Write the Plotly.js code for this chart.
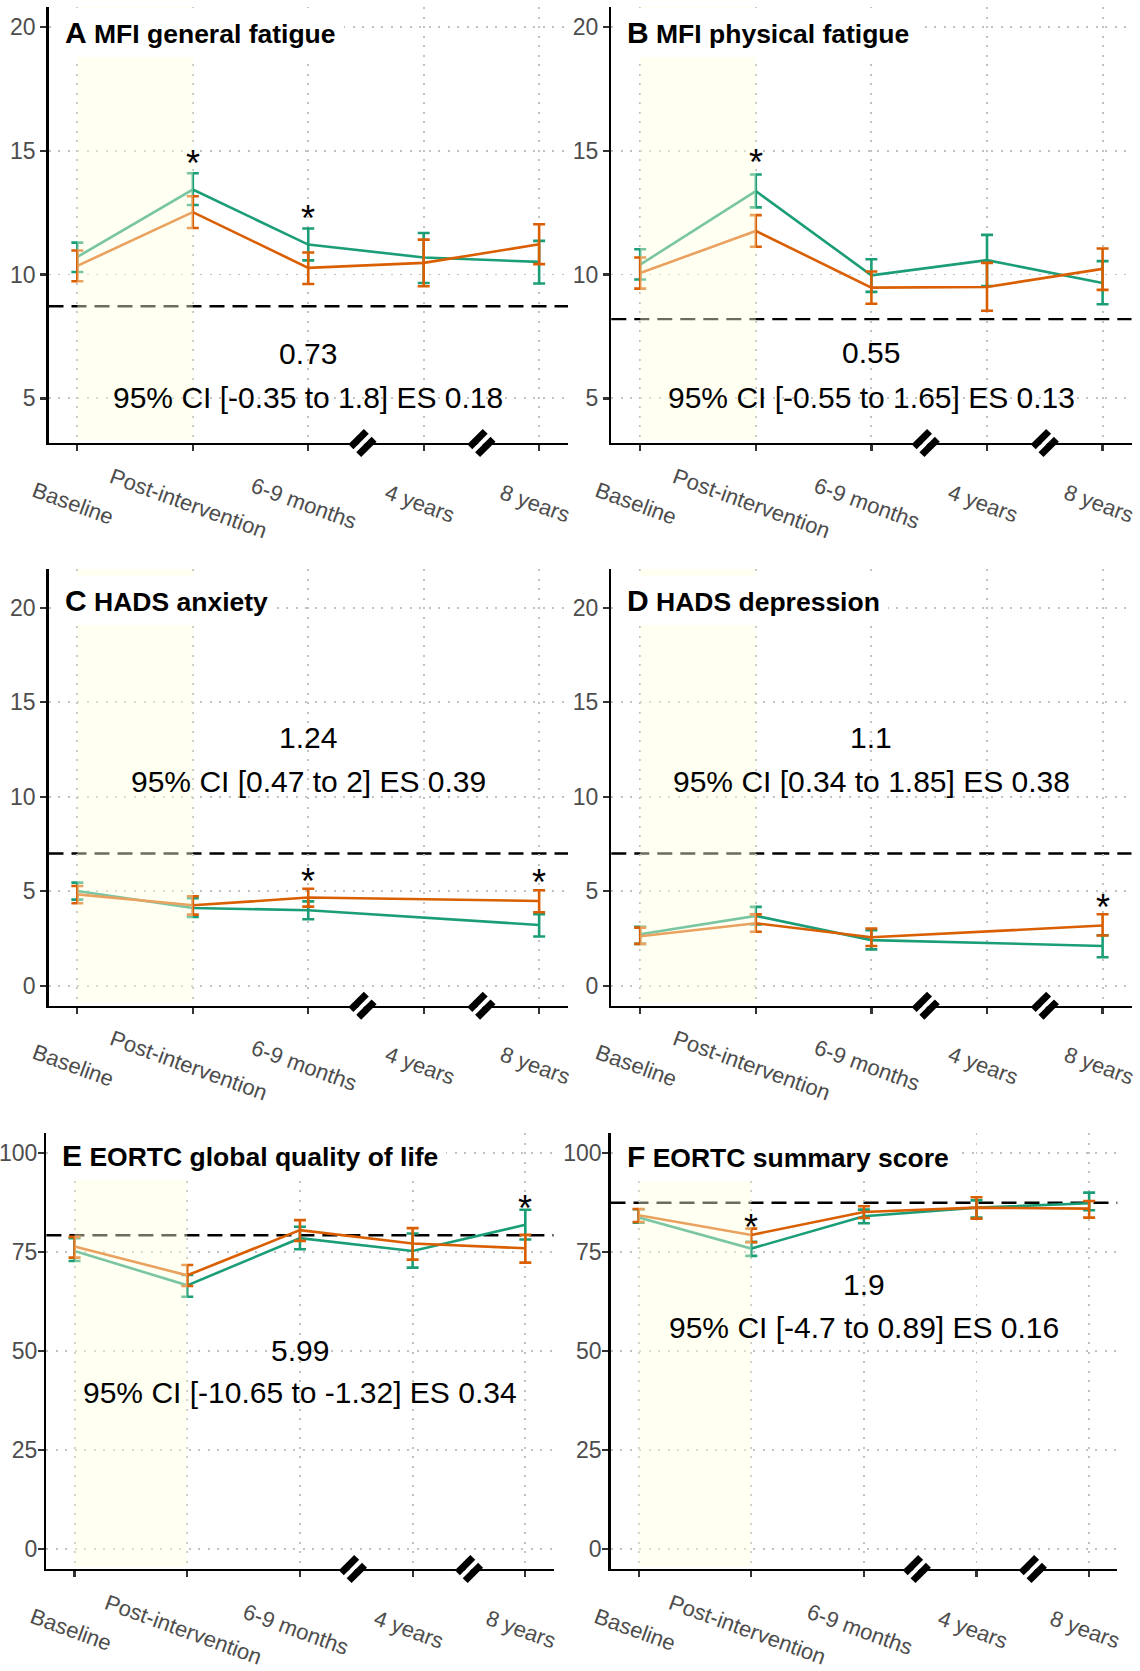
<!DOCTYPE html>
<html>
<head>
<meta charset="utf-8">
<script src="https://cdn.plot.ly/plotly-3.0.1.min.js"></script>
<style>html,body{margin:0;padding:0;background:#fff;}#chart{width:1140px;height:1671px;}</style>
</head>
<body>
<div id="chart"></div>
<script>
// ---------- data ----------
const categories = ['Baseline', 'Post-intervention', '6-9 months', '4 years', '8 years'];
const panelLetters = ['A', 'B', 'C', 'D', 'E', 'F'];
const panelTitles = ['MFI general fatigue', 'MFI physical fatigue', 'HADS anxiety', 'HADS depression',
  'EORTC global quality of life', 'EORTC summary score'];

// green group (mean, upper CI, lower CI)
const greenMeanA = [10.71, 13.43, 11.21, 10.69, 10.51];
const greenHiA   = [11.29, 14.09, 11.86, 11.68, 11.36];
const greenLoA   = [10.10, 12.81, 10.57, 9.66, 9.64];
const orangeMeanA = [10.35, 12.52, 10.27, 10.47, 11.22];
const orangeHiA   = [10.97, 13.16, 10.89, 11.41, 12.03];
const orangeLoA   = [9.73, 11.88, 9.62, 9.53, 10.42];

const greenMeanB = [10.40, 13.37, 9.97, 10.58, 9.66];
const greenHiB   = [11.02, 14.04, 10.62, 11.60, 10.54];
const greenLoB   = [9.80, 12.71, 9.30, 9.54, 8.80];
const orangeMeanB = [10.06, 11.76, 9.47, 9.50, 10.23];
const orangeHiB   = [10.69, 12.40, 10.12, 10.47, 11.05];
const orangeLoB   = [9.43, 11.12, 8.82, 8.54, 9.38];

const greenMeanC = [5.02, 4.12, 4.00, null, 3.22];
const greenHiC   = [5.46, 4.63, 4.47, null, 3.79];
const greenLoC   = [4.56, 3.65, 3.52, null, 2.61];
const orangeMeanC = [4.84, 4.26, 4.67, null, 4.49];
const orangeHiC   = [5.28, 4.74, 5.14, null, 5.06];
const orangeLoC   = [4.37, 3.77, 4.19, null, 3.89];

const greenMeanD = [2.73, 3.70, 2.42, null, 2.11];
const greenHiD   = [3.13, 4.18, 2.94, null, 2.68];
const greenLoD   = [2.22, 3.25, 1.93, null, 1.51];
const orangeMeanD = [2.62, 3.31, 2.57, null, 3.19];
const orangeHiD   = [3.08, 3.78, 3.03, null, 3.79];
const orangeLoD   = [2.22, 2.86, 2.11, null, 2.66];

const greenMeanE = [75.25, 66.56, 78.46, 75.25, 81.84];
const greenHiE   = [78.46, 69.18, 81.33, 79.64, 85.63];
const greenLoE   = [72.72, 63.69, 75.68, 71.03, 78.12];
const orangeMeanE = [76.35, 69.09, 80.49, 77.11, 75.93];
const orangeHiE   = [78.80, 71.71, 83.02, 80.99, 79.30];
const orangeLoE   = [73.57, 66.39, 77.78, 73.06, 72.30];

const greenMeanF = [83.66, 75.84, 83.99, 86.18, 87.27];
const greenHiF   = [85.76, 77.52, 85.67, 88.00, 89.96];
const greenLoF   = [82.39, 73.99, 82.23, 83.66, 85.50];
const orangeMeanF = [84.24, 79.29, 85.08, 86.18, 85.92];
const orangeHiF   = [85.84, 80.88, 86.51, 88.78, 87.86];
const orangeLoF   = [82.56, 77.44, 83.57, 83.40, 83.66];

// reference (cut-off) lines
const cutoffs = [8.72, 8.2, 7.0, 7.0, 79.2, 87.4];
// between-group statistics
const statDiff = ['0.73', '0.55', '1.24', '1.1', '5.99', '1.9'];
const statCI = ['95% CI [-0.35 to 1.8] ES 0.18', '95% CI [-0.55 to 1.65] ES 0.13',
  '95% CI [0.47 to 2] ES 0.39', '95% CI [0.34 to 1.85] ES 0.38',
  '95% CI [-10.65 to -1.32] ES 0.34', '95% CI [-4.7 to 0.89] ES 0.16'];
// significance stars: category index and height
const sigIndexA = [1, 2], sigYA = [14.86, 12.64];
const sigIndexB = [1], sigYB = [14.87];
const sigIndexC = [2, 4], sigYC = [6.0, 5.93];
const sigIndexD = [4], sigYD = [4.61];
const sigIndexE = [4], sigYE = [88.2];
const sigIndexF = [1], sigYF = [83.5];
// axis scale breaks (between categories)
const breakX = [2.47, 3.5];
const yTicksFatigue = [5, 10, 15, 20];
const yTicksHads = [0, 5, 10, 15, 20];
const yTicksEortc = [0, 25, 50, 75, 100];

// ---------- assemble ----------
const series = [
  [greenMeanA, greenHiA, greenLoA, orangeMeanA, orangeHiA, orangeLoA, sigIndexA, sigYA],
  [greenMeanB, greenHiB, greenLoB, orangeMeanB, orangeHiB, orangeLoB, sigIndexB, sigYB],
  [greenMeanC, greenHiC, greenLoC, orangeMeanC, orangeHiC, orangeLoC, sigIndexC, sigYC],
  [greenMeanD, greenHiD, greenLoD, orangeMeanD, orangeHiD, orangeLoD, sigIndexD, sigYD],
  [greenMeanE, greenHiE, greenLoE, orangeMeanE, orangeHiE, orangeLoE, sigIndexE, sigYE],
  [greenMeanF, greenHiF, greenLoF, orangeMeanF, orangeHiF, orangeLoF, sigIndexF, sigYF]
];

// layout geometry (pixels in the 1140x1671 page)
const W = 1140, H = 1671;
const XR = [-0.25, 4.25];
const boxes = [
  {x0: 48.5, x1: 568,    y0: 7,    y1: 443,    yr: [3.2, 20.8],   tv: yTicksFatigue, ty: 32.3, sy: [6.81, 5.04], so: 0},
  {x0: 611.3, x1: 1131.5, y0: 7,    y1: 443,    yr: [3.2, 20.8],   tv: yTicksFatigue, ty: 32.3, sy: [6.84, 5.05], so: 0},
  {x0: 48.5, x1: 568,    y0: 569,  y1: 1005.7, yr: [-1.05, 22.05], tv: yTicksHads,    ty: 600.7, sy: [13.12, 10.81], so: 0},
  {x0: 611.3, x1: 1131.5, y0: 569,  y1: 1005.7, yr: [-1.05, 22.05], tv: yTicksHads,    ty: 600.7, sy: [13.12, 10.81], so: 0},
  {x0: 46.4, x1: 553.5,  y0: 1133, y1: 1569,   yr: [-5, 105],     tv: yTicksEortc,   ty: 1155.5, sy: [50.1, 39.6], so: -4},
  {x0: 610.5, x1: 1117.3, y0: 1133, y1: 1569,   yr: [-5, 105],     tv: yTicksEortc,   ty: 1156.5, sy: [66.8, 56.0], so: -4}
];

const FONT = 'Liberation Sans, Arial, Helvetica, sans-serif';
const GREEN = '#1b9e77', ORANGE = '#d95f02';
const xIdx = categories.map((c, i) => i);
const toDom = v => (v - XR[0]) / (XR[1] - XR[0]);

const data = [];
const shapes = [];
const annotations = [];
const layout = {
  width: W, height: H,
  margin: {l: 0, r: 0, t: 0, b: 0},
  paper_bgcolor: '#fff', plot_bgcolor: '#fff',
  showlegend: false,
  font: {family: FONT, color: '#000'}
};

function errs(mean, hi, lo) {
  return {
    type: 'data', symmetric: false,
    array: mean.map((m, i) => m == null ? null : hi[i] - m),
    arrayminus: mean.map((m, i) => m == null ? null : m - lo[i])
  };
}

boxes.forEach((b, p) => {
  const n = p === 0 ? '' : String(p + 1);
  const xa = 'x' + n, ya = 'y' + n;
  const s = series[p];

  layout['xaxis' + n] = {
    domain: [b.x0 / W, b.x1 / W], anchor: ya, range: XR,
    tickvals: xIdx, showticklabels: false,
    ticks: 'outside', ticklen: 6, tickwidth: 2.2, tickcolor: '#333',
    showline: true, linecolor: '#000', linewidth: 2.4,
    showgrid: true, gridcolor: '#c2c2c2', gridwidth: 1.9, griddash: '2px,7.5px',
    zeroline: false, fixedrange: true
  };
  layout['yaxis' + n] = {
    domain: [1 - b.y1 / H, 1 - b.y0 / H], anchor: xa, range: b.yr,
    tickvals: b.tv, ticks: 'outside', ticklen: 6, tickwidth: 2.2, tickcolor: '#333',
    tickfont: {family: FONT, size: 23, color: '#4d4d4d'}, ticklabelstandoff: b.so,
    showline: true, linecolor: '#000', linewidth: 2.4,
    showgrid: true, gridcolor: '#c2c2c2', gridwidth: 1.9, griddash: '2px,7.5px',
    zeroline: false, fixedrange: true
  };

  // series
  [[s[0], s[1], s[2], GREEN], [s[3], s[4], s[5], ORANGE]].forEach(([m, hi, lo, col]) => {
    data.push({
      type: 'scatter', mode: 'lines', x: xIdx, y: m, xaxis: xa, yaxis: ya,
      connectgaps: true, hoverinfo: 'skip',
      line: {color: col, width: 2.6},
      error_y: Object.assign(errs(m, hi, lo), {color: col, thickness: 2.6, width: 6})
    });
  });

  // dashed cut-off line
  shapes.push({type: 'line', xref: xa + ' domain', x0: 0, x1: 1, yref: ya, y0: cutoffs[p], y1: cutoffs[p],
    line: {color: '#000', width: 2.4, dash: '15px,8px'}, layer: 'below'});

  // intervention period shading (drawn over the data, semi-transparent)
  shapes.push({type: 'rect', xref: xa + ' domain', x0: toDom(0), x1: toDom(1),
    yref: ya + ' domain', y0: 0.006, y1: 1,
    fillcolor: 'rgb(255,255,224)', opacity: 0.42, line: {width: 0}, layer: 'above'});

  // axis break marks
  breakX.forEach(bx => {
    const common = {type: 'line', xref: xa + ' domain', xsizemode: 'pixel', xanchor: toDom(bx),
      yref: ya + ' domain', ysizemode: 'pixel', yanchor: 0, layer: 'above'};
    shapes.push(Object.assign({}, common, {x0: -10, y0: -10, x1: 10, y1: 10, line: {color: '#fff', width: 4}}));
    shapes.push(Object.assign({}, common, {x0: -11.6, y0: -3.8, x1: 3.8, y1: 11.6, line: {color: '#000', width: 7}}));
    shapes.push(Object.assign({}, common, {x0: -3.8, y0: -11.6, x1: 11.6, y1: 3.8, line: {color: '#000', width: 7}}));
  });

  // panel title
  annotations.push({
    xref: xa + ' domain', x: 0, xanchor: 'left', xshift: 8,
    yref: 'paper', y: 1 - b.ty / H, yanchor: 'middle',
    text: '<b><span style="font-size:30px">' + panelLetters[p] + '</span> ' + panelTitles[p] + '</b>',
    showarrow: false, font: {family: FONT, size: 26.5, color: '#000'},
    bgcolor: '#fff', borderpad: 8, borderwidth: 0
  });

  // x category labels (rotated)
  categories.forEach((c, i) => {
    annotations.push({
      xref: xa, x: i, yref: ya + ' domain', y: 0, xshift: -4, yshift: -60,
      xanchor: 'center', yanchor: 'middle', textangle: 20,
      text: c, showarrow: false, font: {family: FONT, size: 22, color: '#4d4d4d'}
    });
  });

  // statistics text
  annotations.push({xref: xa, x: 2, yref: ya, y: b.sy[0], xanchor: 'center', yanchor: 'middle',
    text: statDiff[p], showarrow: false, font: {family: FONT, size: 30, color: '#000'}});
  annotations.push({xref: xa, x: 2, yref: ya, y: b.sy[1], xanchor: 'center', yanchor: 'middle',
    text: statCI[p], showarrow: false, font: {family: FONT, size: 30, color: '#000'}});

  // significance stars
  s[6].forEach((ci, k) => {
    annotations.push({xref: xa, x: ci, yref: ya, y: s[7][k], xanchor: 'center', yanchor: 'middle',
      yshift: -9, text: '*', showarrow: false, font: {family: FONT, size: 36, color: '#000'}});
  });
});

layout.shapes = shapes;
layout.annotations = annotations;

Plotly.newPlot('chart', data, layout, {displayModeBar: false, staticPlot: true});
</script>
</body>
</html>
